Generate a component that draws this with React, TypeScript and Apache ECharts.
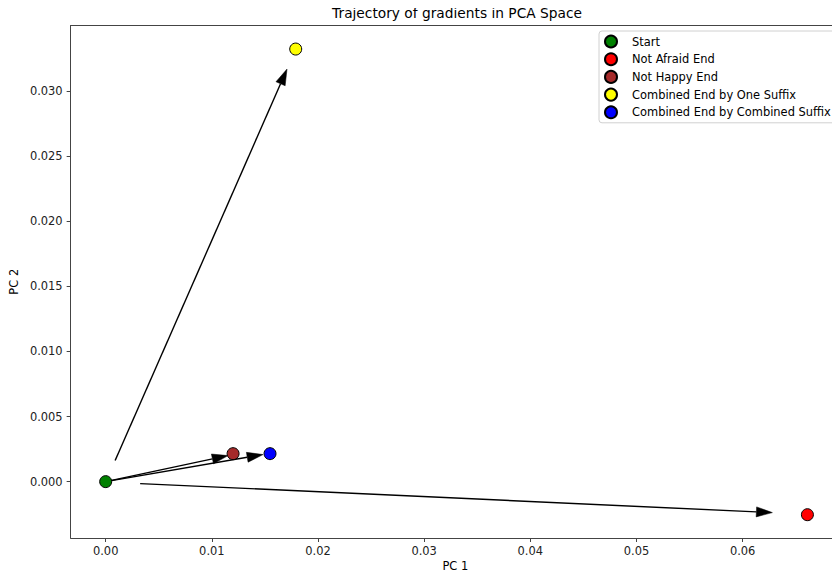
import React, { useEffect, useRef } from "react";
import * as echarts from "echarts";

const pointNames = [
  "Start",
  "Not Afraid End",
  "Not Happy End",
  "Combined End by One Suffix",
  "Combined End by Combined Suffix",
];
const pointColors = ["#008000", "#ff0000", "#a52a2a", "#ffff00", "#0000ff"];
const pointX = [0.0, 0.0661, 0.012, 0.0179, 0.01548];
const pointY = [0.0, -0.00254, 0.00215, 0.03323, 0.00215];

// arrows: [x0, y0, x1(tip), y1(tip)]
const arrowX0 = [0.00089, 0.00325, 0.0, 0.0];
const arrowY0 = [0.00162, -0.00015, 0.0, 0.0];
const arrowX1 = [0.01708, 0.0628, 0.01153, 0.01482];
const arrowY1 = [0.03169, -0.00238, 0.002, 0.00208];

const xTicks = [0, 0.01, 0.02, 0.03, 0.04, 0.05, 0.06];
const yTicks = [0, 0.005, 0.01, 0.015, 0.02, 0.025, 0.03];

const FONT = "DejaVu Sans";
const FS = 11.45;

export default function App() {
  const ref = useRef<HTMLDivElement>(null);
  useEffect(() => {
    if (!ref.current) return;
    const chart = echarts.init(ref.current, undefined, { renderer: "svg" });
    const arrowData = arrowX0.map((x0, i) => [x0, arrowY0[i], arrowX1[i], arrowY1[i]]);
    const scatterSeries = pointNames.map((name, i) => ({
      type: "scatter",
      name,
      data: [[pointX[i], pointY[i]]],
      symbol: "circle",
      symbolSize: 12,
      itemStyle: { color: pointColors[i], borderColor: "#000", borderWidth: 1, opacity: 1 },
      z: 5,
    }));
    const lineStyle = { color: "#444", width: 1 };
    chart.setOption({
      animation: false,
      backgroundColor: "#fff",
      title: {
        text: "Trajectory of gradients in PCA Space",
        left: 457,
        top: 6,
        padding: 0,
        textAlign: "center",
        textStyle: { fontFamily: FONT, fontSize: 13.75, fontWeight: "normal", color: "#000" },
      },
      legend: {
        orient: "vertical",
        left: 599,
        top: 31,
        padding: [3.5, 8, 3.5, 5],
        itemWidth: 32,
        itemHeight: 12,
        itemGap: 3.7,
        icon: "circle",
        backgroundColor: "#fff",
        borderColor: "#d0d0d0",
        borderWidth: 1,
        borderRadius: 3,
        data: pointNames,
        textStyle: {
          fontFamily: FONT,
          fontSize: FS,
          lineHeight: 14,
          color: "#000",
        },
      },
      grid: { left: 70, top: 25.5, right: 0, bottom: 40, containLabel: false },
      xAxis: [
        {
          type: "value",
          min: -0.0033,
          max: 0.06917,
          position: "bottom",
          name: "PC 1",
          nameLocation: "middle",
          nameGap: 22,
          nameTextStyle: { fontFamily: FONT, fontSize: FS, color: "#000" },
          axisLine: { show: true, onZero: false, lineStyle },
          splitLine: { show: false },
          axisTick: { show: true, length: 4, customValues: xTicks, lineStyle: { color: "#444" } },
          axisLabel: {
            customValues: xTicks,
            fontFamily: FONT,
            fontSize: FS,
            color: "#222",
            margin: 7,
            formatter: (v: number) => v.toFixed(2),
          },
        },
        {
          type: "value",
          min: -0.0033,
          max: 0.06917,
          position: "top",
          axisLine: { show: true, onZero: false, lineStyle },
          axisTick: { show: false },
          axisLabel: { show: false },
          splitLine: { show: false },
        },
      ],
      yAxis: [
        {
          type: "value",
          min: -0.00433,
          max: 0.03504,
          position: "left",
          name: "PC 2",
          nameLocation: "middle",
          nameGap: 39,
          nameTextStyle: { fontFamily: FONT, fontSize: FS, color: "#000" },
          axisLine: { show: true, onZero: false, lineStyle },
          splitLine: { show: false },
          axisTick: { show: true, length: 4, customValues: yTicks, lineStyle: { color: "#444" } },
          axisLabel: {
            customValues: yTicks,
            fontFamily: FONT,
            fontSize: FS,
            color: "#222",
            margin: 8,
            formatter: (v: number) => v.toFixed(3),
          },
        },
      ],
      series: [
        {
          type: "custom",
          coordinateSystem: "cartesian2d",
          xAxisIndex: 0,
          yAxisIndex: 0,
          data: arrowData,
          encode: { x: [0, 2], y: [1, 3] },
          z: 3,
          renderItem: (params: any, api: any) => {
            const p0 = api.coord([api.value(0), api.value(1)]);
            const p1 = api.coord([api.value(2), api.value(3)]);
            const dx = p1[0] - p0[0];
            const dy = p1[1] - p0[1];
            const len = Math.sqrt(dx * dx + dy * dy);
            const ux = dx / len;
            const uy = dy / len;
            const headLen = 16;
            const halfW = 5;
            const bx = p1[0] - ux * headLen;
            const by = p1[1] - uy * headLen;
            const nx = -uy;
            const ny = ux;
            return {
              type: "group",
              children: [
                {
                  type: "line",
                  shape: { x1: p0[0], y1: p0[1], x2: bx, y2: by },
                  style: { stroke: "#000", lineWidth: 1.4 },
                },
                {
                  type: "polygon",
                  shape: {
                    points: [
                      [p1[0], p1[1]],
                      [bx + nx * halfW, by + ny * halfW],
                      [bx - nx * halfW, by - ny * halfW],
                    ],
                  },
                  style: { fill: "#000", stroke: "#000", lineWidth: 0.5 },
                },
              ],
            };
          },
        },
        ...scatterSeries,
      ],
    });
    return () => chart.dispose();
  }, []);
  return <div ref={ref} style={{ width: 840, height: 578, margin: -8 }} />;
}
